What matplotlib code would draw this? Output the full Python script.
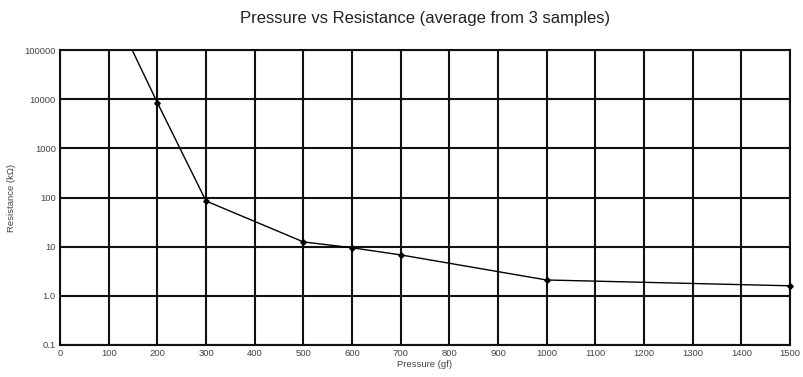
import matplotlib
matplotlib.use("Agg")
import matplotlib.pyplot as plt

pressure = [100, 200, 300, 500, 600, 700, 1000, 1500]
resistance = [1000000, 8500, 85, 12.5, 9.5, 6.8, 2.1, 1.6]
xticks = list(range(0, 1501, 100))
yticks = [0.1, 1, 10, 100, 1000, 10000, 100000]
ytick_labels = ["0.1", "1.0", "10", "100", "1000", "10000", "100000"]

plt.rcParams['font.family'] = ['Liberation Sans', 'DejaVu Sans']

fig = plt.figure(figsize=(8.04, 3.77), dpi=100)
ax = fig.add_axes([60/804, 1-345/377, 730/804, 295/377])
ax.set_yscale('log')
ax.set_xlim(0, 1500)
ax.set_ylim(0.1, 100000)
ax.set_xticks(xticks)
ax.set_xticklabels([str(v) for v in xticks], fontsize=6.8, color='#444444')
ax.set_yticks(yticks)
ax.set_yticklabels(ytick_labels, fontsize=6.8, color='#444444')
ax.yaxis.set_minor_locator(matplotlib.ticker.NullLocator())
ax.tick_params(length=0, pad=3)
ax.grid(True, color='#111111', linewidth=1.5)
for s in ax.spines.values():
    s.set_linewidth(1.5)
    s.set_color('#111111')
ax.set_axisbelow(True)

ax.plot(pressure, resistance, color='black', linewidth=1.0, zorder=3)
ymin, ymax = 0.1, 100000
vis = [(p, r) for p, r in zip(pressure, resistance) if ymin <= r <= ymax]
ax.plot([p for p, _ in vis], [r for _, r in vis], linestyle='none', color='black',
        marker='D', markersize=2.8, zorder=4, clip_on=False)
ax.set_ylim(ymin, ymax)

ax.set_xlabel("Pressure (gf)", fontsize=6.8, color='#444444', labelpad=1)
ax.set_ylabel("Resistance (kΩ)", fontsize=6.8, color='#444444', labelpad=6)
fig.text(425/804, 1-18/377, "Pressure vs Resistance (average from 3 samples)", ha='center', va='center', fontsize=12, color='#222222')

fig.savefig("out.png", dpi=100)
